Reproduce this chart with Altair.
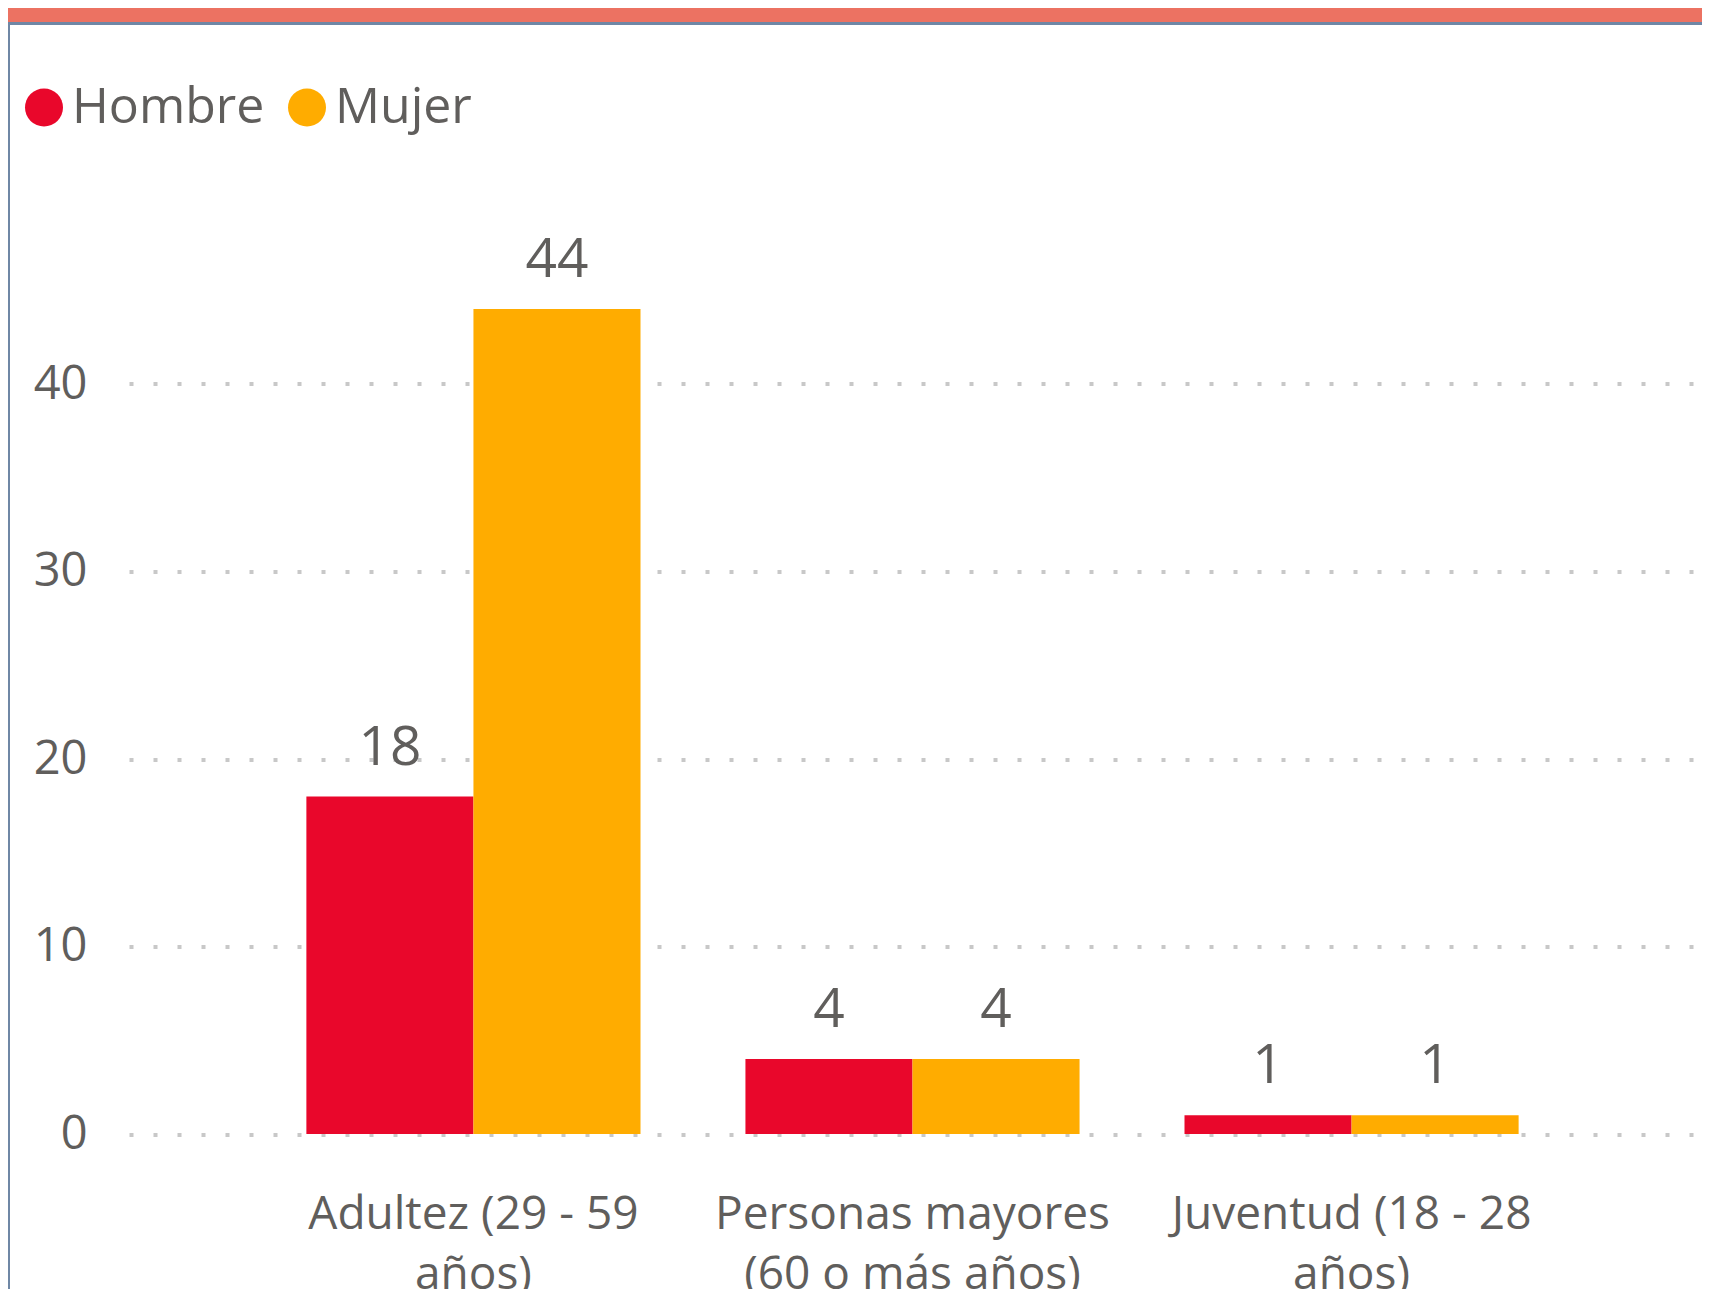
import altair as alt
import pandas as pd

# ---- data ----
label_lines = [
    ["Adultez (29 - 59", "años)"],
    ["Personas mayores", "(60 o más años)"],
    ["Juventud (18 - 28", "años)"],
]
categories = ["\n".join(l) for l in label_lines]
series = ["Hombre", "Mujer"]
hombre = [18, 4, 1]
mujer = [44, 4, 1]
y_ticks = [0, 10, 20, 30, 40]
colors = ["#E9072B", "#FFAC00"]

rows = []
for c, h, m in zip(categories, hombre, mujer):
    rows.append({"grupo": c, "sexo": "Hombre", "valor": h})
    rows.append({"grupo": c, "sexo": "Mujer", "valor": m})
df = pd.DataFrame(rows)

FONT = "Open Sans"
TXT = "#605E5C"
PLOT_W = 1567
PLOT_H = 937.5

x_enc = alt.X(
    "grupo:N",
    sort=categories,
    scale=alt.Scale(paddingInner=0.239, paddingOuter=0.404),
    axis=alt.Axis(
        title=None,
        labelAngle=0,
        labelExpr="split(datum.label, '\\n')",
        labelFontSize=46,
        labelFont=FONT,
        labelColor=TXT,
        labelPadding=58,
        labelLineHeight=60,
        labelLimit=1000,
        domain=False,
        ticks=False,
        grid=False,
        labelBaseline="top",
    ),
)
y_enc = alt.Y(
    "valor:Q",
    scale=alt.Scale(domain=[0, 50], nice=False),
    axis=alt.Axis(
        title=None,
        values=y_ticks,
        labelFontSize=47,
        labelFont=FONT,
        labelColor=TXT,
        labelPadding=42,
        domain=False,
        ticks=False,
        grid=True,
        gridDash=[4, 20],
        gridWidth=4,
        gridColor="#C8C8C8",
    ),
)
color_enc = alt.Color(
    "sexo:N",
    sort=series,
    scale=alt.Scale(domain=series, range=colors),
    legend=alt.Legend(
        title=None,
        orient="none",
        legendX=-110,
        legendY=-114,
        direction="horizontal",
        symbolType="circle",
        symbolSize=1444,
        symbolStrokeWidth=0,
        labelFontSize=50,
        labelFont=FONT,
        labelColor=TXT,
        labelOffset=3,
        columnPadding=17,
        labelLimit=400,
    ),
)

base = alt.Chart(df)
bars = base.mark_bar().encode(
    x=x_enc,
    xOffset=alt.XOffset("sexo:N", sort=series),
    y=y_enc,
    color=color_enc,
)
labels = base.mark_text(
    baseline="alphabetic", dy=-32, fontSize=55, font=FONT, color=TXT
).encode(
    x=alt.X("grupo:N", sort=categories),
    xOffset=alt.XOffset("sexo:N", sort=series),
    y="valor:Q",
    text="valor:Q",
)

deco = alt.Chart(pd.DataFrame({"d": [0]}))
top_bar = deco.mark_rect(color="#EC7262").encode(
    x=alt.value(-121), x2=alt.value(1573), y=alt.value(-188.5), y2=alt.value(-174.5)
)
top_line = deco.mark_rect(color="#6F87A5").encode(
    x=alt.value(-121), x2=alt.value(1573), y=alt.value(-174.5), y2=alt.value(-171.5)
)
left_line = deco.mark_rect(color="#6F87A5").encode(
    x=alt.value(-121), x2=alt.value(-119), y=alt.value(-171.5), y2=alt.value(1100)
)

chart = (
    alt.layer(bars, labels, top_bar, top_line, left_line)
    .properties(
        width=PLOT_W,
        height=PLOT_H,
        autosize=alt.AutoSizeParams(type="none"),
        padding={"left": 121, "top": 188.5, "right": 6, "bottom": 155},
        background="white",
    )
    .configure_view(stroke=None)
)

chart.save("out.html", embed_options={"renderer": "svg", "actions": False})
